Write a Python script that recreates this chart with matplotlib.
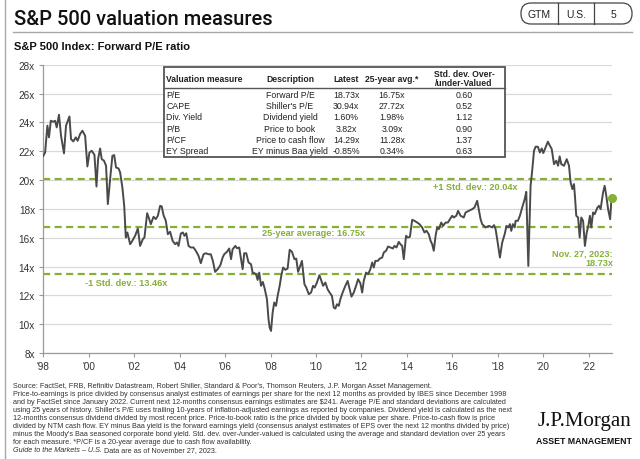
import matplotlib
matplotlib.use("Agg")
import matplotlib.pyplot as plt
from matplotlib.patches import Rectangle, FancyBboxPatch
from matplotlib.lines import Line2D
from matplotlib.transforms import IdentityTransform

plt.rcParams['font.family'] = ['Liberation Sans', 'DejaVu Sans']

W, H = 640, 460


def fx(px):
    return px / W


def fy(py):
    return 1 - py / H


# ---- data ----
years = [1998.00, 1998.08, 1998.18, 1998.25, 1998.33, 1998.44, 1998.52, 1998.59, 1998.69, 1998.78,
         1998.91, 1999.00, 1999.15, 1999.22, 1999.32, 1999.43, 1999.51, 1999.62, 1999.72, 1999.84,
         1999.94, 2000.03, 2000.13, 2000.25, 2000.34, 2000.41, 2000.50, 2000.57, 2000.67, 2000.76,
         2000.84, 2000.94, 2001.04, 2001.12, 2001.20, 2001.31, 2001.38, 2001.48, 2001.56, 2001.63,
         2001.70, 2001.82, 2001.89, 2002.04, 2002.16, 2002.26, 2002.38, 2002.45, 2002.57, 2002.66,
         2002.73, 2002.85, 2002.95, 2003.04, 2003.14, 2003.21, 2003.29, 2003.39, 2003.48, 2003.58,
         2003.69, 2003.80, 2003.88, 2003.95, 2004.05, 2004.14, 2004.21, 2004.29, 2004.39, 2004.49,
         2004.61, 2004.71, 2004.83, 2004.93, 2005.05, 2005.15, 2005.27, 2005.37, 2005.46, 2005.56,
         2005.67, 2005.79, 2005.89, 2005.96, 2006.08, 2006.18, 2006.26, 2006.33, 2006.45, 2006.52,
         2006.62, 2006.70, 2006.77, 2006.84, 2006.93, 2007.03, 2007.14, 2007.21, 2007.28, 2007.36,
         2007.43, 2007.50, 2007.58, 2007.66, 2007.74, 2007.84, 2007.91, 2007.96, 2008.02, 2008.09,
         2008.16, 2008.24, 2008.31, 2008.40, 2008.47, 2008.55, 2008.65, 2008.75, 2008.84, 2008.94,
         2009.05, 2009.13, 2009.21, 2009.28, 2009.38, 2009.49, 2009.57, 2009.68, 2009.78, 2009.87,
         2009.94, 2010.04, 2010.15,
         2010.31, 2010.41, 2010.51, 2010.60, 2010.70, 2010.78, 2010.85, 2010.92, 2011.00, 2011.07,
         2011.17, 2011.29, 2011.39, 2011.48, 2011.56, 2011.66, 2011.76, 2011.85, 2011.95, 2012.03,
         2012.10, 2012.20, 2012.29, 2012.39, 2012.47, 2012.54, 2012.61, 2012.72, 2012.80, 2012.91,
         2012.98, 2013.08, 2013.17, 2013.27, 2013.38, 2013.45, 2013.54, 2013.64, 2013.71, 2013.79,
         2013.86, 2013.96, 2014.04, 2014.13, 2014.23, 2014.33, 2014.45, 2014.55, 2014.67, 2014.77,
         2014.86, 2014.96, 2015.04, 2015.11, 2015.18, 2015.26, 2015.33, 2015.40, 2015.51, 2015.59,
         2015.70, 2015.80, 2015.89, 2015.99, 2016.06, 2016.17, 2016.25,
         2016.36, 2016.50, 2016.58, 2016.72, 2016.87, 2016.97, 2017.09, 2017.24, 2017.31, 2017.46,
         2017.61, 2017.75, 2017.83, 2017.90, 2017.97, 2018.09, 2018.19, 2018.30, 2018.38, 2018.46,
         2018.53, 2018.59, 2018.66, 2018.74, 2018.78, 2018.88, 2018.97, 2019.07, 2019.18, 2019.25,
         2019.34, 2019.44, 2019.51, 2019.59, 2019.66, 2019.76, 2019.85, 2019.93, 2020.00, 2020.10,
         2020.20, 2020.29, 2020.37, 2020.47, 2020.57, 2020.65, 2020.72, 2020.79, 2020.91, 2021.03,
         2021.13, 2021.20, 2021.28, 2021.35, 2021.39, 2021.45, 2021.53, 2021.60, 2021.67, 2021.75,
         2021.83, 2021.91, 2021.98, 2022.05, 2022.11, 2022.19, 2022.26, 2022.38, 2022.45, 2022.52,
         2022.63, 2022.70, 2022.77, 2022.85, 2022.94, 2023.00]

forward_pe = [21.68, 21.91, 23.77, 22.96, 24.11, 24.04, 24.11, 23.65, 24.53, 23.07,
              21.85, 23.77, 24.41, 22.84, 22.68, 22.96, 22.72, 23.19, 23.42, 23.07,
              20.94, 21.91, 22.03, 21.75, 19.55, 21.45, 22.19, 21.45, 21.34, 20.99,
              18.33, 20.06, 21.68, 21.73, 20.87, 20.80, 20.53, 19.48, 18.21, 16.01,
              16.36, 15.55, 15.71, 16.13, 16.64, 15.43, 15.90, 16.01, 17.70, 17.29,
              16.94, 17.45, 17.29, 17.52, 18.21, 18.17, 17.56, 17.17, 16.24, 16.41,
              15.78, 15.55, 15.67, 15.43, 16.29, 16.36, 16.13, 16.31, 15.43, 15.32,
              15.32, 15.09, 14.74, 14.23, 14.85, 14.92, 14.85, 14.85, 14.39, 13.63,
              13.81, 14.09, 14.62, 14.85, 15.02, 15.25, 14.51, 15.20, 15.43, 15.27,
              15.32, 14.51, 13.81, 14.92, 14.92, 14.28, 14.16, 13.58, 13.54, 13.47,
              13.07, 13.58, 12.66, 12.93, 12.47, 11.73, 10.34, 9.76, 9.53, 10.80,
              11.50, 11.27, 11.96, 12.66, 13.35, 13.93, 13.77, 13.86, 15.16, 15.02,
              14.51, 14.55, 13.63, 13.93, 14.39, 12.77, 12.54, 12.08, 12.19, 12.66,
              12.54, 12.89, 13.40,
              12.66, 12.89, 12.42, 12.19, 11.96, 11.15, 11.08, 11.38, 11.27, 11.73,
              12.19, 12.66, 13.00, 12.42, 11.91, 12.19, 12.66, 13.12, 12.84, 12.19,
              13.00, 13.58, 13.47, 13.81, 14.28, 13.93, 14.39, 14.39, 14.55, 14.62,
              14.97, 15.09, 15.39, 15.32, 15.25, 15.43, 15.32, 15.71, 15.55, 15.43,
              14.51, 16.13, 16.01, 16.06, 17.24, 17.17, 17.05, 16.94, 16.71, 16.36,
              16.48, 16.24, 15.78, 15.55, 15.09, 16.13, 16.71, 16.59, 17.05, 16.82,
              17.05, 17.05, 17.28, 17.52, 17.40, 17.52, 17.86,
              17.52, 17.40, 17.75, 17.86, 17.98, 18.09, 18.56, 17.28, 16.94, 16.71,
              16.82, 16.71, 16.87, 16.59, 15.90, 14.62, 15.66, 16.24, 16.82, 16.71,
              16.94, 16.47, 16.94, 16.71, 17.17, 17.17, 17.52, 18.09, 18.67, 19.18,
              14.04, 19.60, 20.64, 22.03, 22.31, 22.31, 21.91, 22.19, 21.87, 22.26,
              22.66, 22.38, 22.15, 21.10, 21.34, 20.99, 21.64, 21.10, 20.99, 21.45,
              20.99, 19.83, 19.37, 19.72, 18.91, 17.52, 17.40, 16.01, 17.40, 17.17,
              15.43, 16.36, 16.82, 17.52, 16.71, 17.75, 17.63, 18.09, 18.21, 17.98,
              19.14, 19.60, 18.91, 17.98, 17.28, 18.73]

avg_25y = 16.75
plus_1sd = 20.04
minus_1sd = 13.46

x_ticks = [1998, 2000, 2002, 2004, 2006, 2008, 2010, 2012, 2014, 2016, 2018, 2020, 2022]
x_tick_labels = ["'98", "'00", "'02", "'04", "'06", "'08", "'10", "'12", "'14", "'16", "'18", "'20", "'22"]
y_ticks = [8, 10, 12, 14, 16, 18, 20, 22, 24, 26, 28]

table_header = ["Valuation measure", "Description", "Latest", "25-year avg.*", "Std. dev. Over-\n/under-Valued"]
table_measures = ["P/E", "CAPE", "Div. Yield", "P/B", "P/CF", "EY Spread"]
table_desc = ["Forward P/E", "Shiller's P/E", "Dividend yield", "Price to book", "Price to cash flow", "EY minus Baa yield"]
table_latest = ["18.73x", "30.94x", "1.60%", "3.82x", "14.29x", "-0.85%"]
table_avg = ["16.75x", "27.72x", "1.98%", "3.09x", "11.28x", "0.34%"]
table_std = ["0.60", "0.52", "1.12", "0.90", "1.37", "0.63"]

footnote_lines = [
    "Source: FactSet, FRB, Refinitiv Datastream, Robert Shiller, Standard & Poor's, Thomson Reuters, J.P. Morgan Asset Management.",
    "Price-to-earnings is price divided by consensus analyst estimates of earnings per share for the next 12 months as provided by IBES since December 1998",
    "and by FactSet since January 2022. Current next 12-months consensus earnings estimates are \\$241. Average P/E and standard deviations are calculated",
    "using 25 years of history. Shiller's P/E uses trailing 10-years of inflation-adjusted earnings as reported by companies. Dividend yield is calculated as the next",
    "12-months consensus dividend divided by most recent price. Price-to-book ratio is the price divided by book value per share. Price-to-cash flow is price",
    "divided by NTM cash flow. EY minus Baa yield is the forward earnings yield (consensus analyst estimates of EPS over the next 12 months divided by price)",
    "minus the Moody's Baa seasoned corporate bond yield. Std. dev. over-/under-valued is calculated using the average and standard deviation over 25 years",
    "for each measure. *P/CF is a 20-year average due to cash flow availability.",
]
footnote_guide = "Guide to the Markets \u2013 U.S."
footnote_date = " Data are as of November 27, 2023."

GREEN = '#84b135'
LINE = '#4a4a4a'
DARK = '#222222'

fig = plt.figure(figsize=(6.4, 4.6), dpi=100)

# ---- main chart ----
ax = fig.add_axes([fx(43.3), fy(354), fx(611.5) - fx(43.3), fy(65.7) - fy(354)])
ax.set_xlim(1998, 2023)
ax.set_ylim(8, 28)
ax.set_xticks(x_ticks)
ax.set_xticklabels(x_tick_labels)
ax.set_yticks(y_ticks)
ax.set_yticklabels([f"{v}x" for v in y_ticks])
ax.yaxis.grid(True, color='#d9d9d9', lw=0.9)
ax.set_axisbelow(True)
for s in ['top', 'right']:
    ax.spines[s].set_visible(False)
for s in ['left', 'bottom']:
    ax.spines[s].set_color('#9a9a9a')
    ax.spines[s].set_linewidth(0.9)
ax.tick_params(length=3, color='#9a9a9a', labelsize=7.2, labelcolor='#333333', pad=3)

for lvl in [plus_1sd, avg_25y, minus_1sd]:
    ax.axhline(lvl, color=GREEN, lw=1.6, dashes=(3.2, 2.0), zorder=2)

ax.plot(years, forward_pe, color=LINE, lw=1.4, zorder=3, solid_joinstyle='round')
ax.plot(years[-1], forward_pe[-1], 'o', color=GREEN, ms=5.5, zorder=4, clip_on=False)

lab = dict(color=GREEN, fontsize=6.6, fontweight='bold', va='center')
ax.text(2017.0, plus_1sd - 0.46, f"+1 Std. dev.: {plus_1sd:.2f}x", ha='center', **lab)
ax.text(2009.9, avg_25y - 0.37, f"25-year average: {avg_25y:.2f}x", ha='center', **lab)
ax.text(2001.64, minus_1sd - 0.55, f"-1 Std. dev.: {minus_1sd:.2f}x", ha='center', **lab)
ax.text(2023.07, 14.92, "Nov. 27, 2023:", ha='right', **lab)
ax.text(2023.07, 14.30, f"{forward_pe[-1]:.2f}x", ha='right', **lab)

# ---- table ----
fig.add_artist(Rectangle((fx(164), fy(158)), fx(505) - fx(164), fy(68) - fy(158),
                         transform=fig.transFigure, facecolor='white', edgecolor='#555555',
                         lw=1.3, zorder=5))
fig.add_artist(Line2D([fx(164), fx(505)], [fy(89), fy(89)], transform=fig.transFigure,
                      color='#555555', lw=1.0, zorder=6))

col_x = [166.5, 290, 346, 392, 464]
col_ha = ['left', 'center', 'center', 'center', 'center']
for i, h in enumerate(table_header):
    fig.text(fx(col_x[i]), fy(79), h, ha=col_ha[i], va='center', fontsize=6.2,
             fontweight='bold', color=DARK, linespacing=1.05, zorder=7)

cols = [table_measures, table_desc, table_latest, table_avg, table_std]
for r in range(len(table_measures)):
    ypix = 95 + r * 11.4
    for c, col in enumerate(cols):
        fig.text(fx(col_x[c]), fy(ypix), col[r], ha=col_ha[c], va='center',
                 fontsize=6.3, color=DARK, zorder=7)

# ---- header ----
fig.text(fx(14), fy(25), "S&P 500 valuation measures", fontsize=14.5, color='#111111',
         va='baseline', ha='left', family=['Roboto', 'Liberation Sans'], fontweight='medium')
fig.add_artist(Line2D([fx(13), fx(632)], [fy(32.5), fy(32.5)], transform=fig.transFigure,
                      color='#a8a8a8', lw=1.0))
fig.text(fx(14), fy(49.5), "S&P 500 Index: Forward P/E ratio", fontsize=8, fontweight='bold',
         color='#111111', va='baseline', ha='left')

# left border
fig.add_artist(Line2D([fx(4.5), fx(4.5)], [0, 1], transform=fig.transFigure, color='#a8a8a8', lw=1.0))

# badge
ident = IdentityTransform()
fig.add_artist(FancyBboxPatch((521, H - 25), 111, 21, boxstyle="round,pad=0,rounding_size=10",
                              transform=ident, fc='white', ec='#444444', lw=0.9))
for xd in [558, 594]:
    fig.add_artist(Line2D([xd, xd], [H - 25, H - 4], transform=ident, color='#444444', lw=0.9))
for txt, xc in zip(["GTM", "U.S.", "5"], [539.5, 576, 613]):
    fig.text(fx(xc), fy(14.5), txt, ha='center', va='center', fontsize=7.5, color='#222222')

# ---- footnotes ----
FN = 5.25
for i, line in enumerate(footnote_lines):
    fig.text(fx(13), fy(388 + i * 8.0), line, fontsize=FN, color='#333333', va='baseline')
guide = fig.text(fx(13), fy(388 + 8 * 8.0), footnote_guide, fontsize=FN, color='#333333',
                 va='baseline', style='italic')
renderer = fig.canvas.get_renderer()
gx = guide.get_window_extent(renderer).x1
fig.text(gx / W, fy(388 + 8 * 8.0), footnote_date, fontsize=FN, color='#333333', va='baseline')

# logo
fig.text(fx(584), fy(426), "J.P.Morgan", fontsize=15, family=['Liberation Serif', 'DejaVu Serif'],
         color='#111111', ha='center', va='baseline')
fig.text(fx(584), fy(442), "ASSET MANAGEMENT", fontsize=6.3, fontweight='bold',
         color='#111111', ha='center', va='center')

fig.savefig("out.png", dpi=100)
